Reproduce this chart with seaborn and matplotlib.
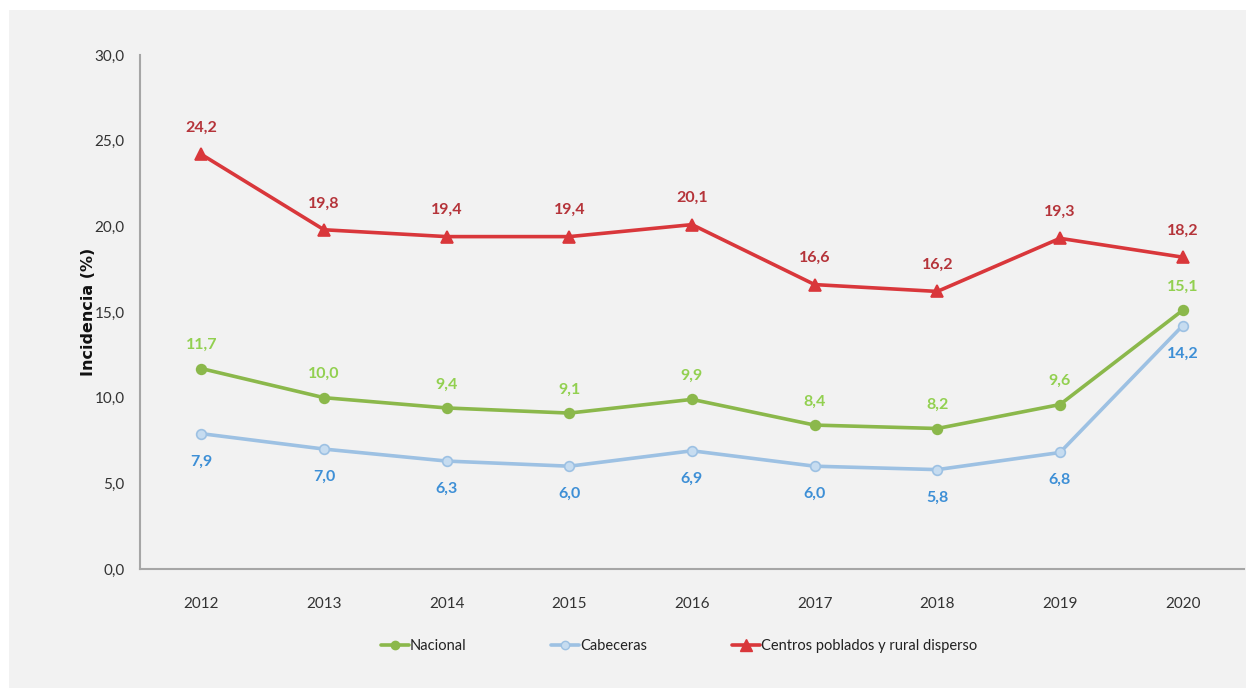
import matplotlib
matplotlib.use("Agg")
import matplotlib.pyplot as plt
import seaborn as sns
import pandas as pd
from matplotlib.patches import Rectangle
from matplotlib.lines import Line2D

years = [2012, 2013, 2014, 2015, 2016, 2017, 2018, 2019, 2020]
nacional = [11.7, 10.0, 9.4, 9.1, 9.9, 8.4, 8.2, 9.6, 15.1]
cabeceras = [7.9, 7.0, 6.3, 6.0, 6.9, 6.0, 5.8, 6.8, 14.2]
rural = [24.2, 19.8, 19.4, 19.4, 20.1, 16.6, 16.2, 19.3, 18.2]
series_names = ["Nacional", "Cabeceras", "Centros poblados y rural disperso"]
y_ticks = [0, 5, 10, 15, 20, 25, 30]

sns.set_style("white")
plt.rcParams["font.family"] = ["Lato", "DejaVu Sans"]

fig = plt.figure(figsize=(12.46, 6.88), dpi=100, facecolor="white")
fig.patches.append(Rectangle((9 / 1246, 0), 1, 1 - 10 / 688, transform=fig.transFigure,
                             facecolor="#f2f2f2", edgecolor="none", zorder=-10))
ax = fig.add_axes([140 / 1246, 1 - 569 / 688, 1104 / 1246, 514 / 688])
ax.set_facecolor("none")
ax.set_zorder(5)

styles = {
    "Nacional": dict(line="#8bb84b", face="#8bb84b", edge="#8bb84b", marker="o", ms=7,
                     text="#92d050", dy=17),
    "Cabeceras": dict(line="#9dc1e3", face="#c6dcf0", edge="#9dc1e3", marker="o", ms=7,
                      text="#3d8fd6", dy=-20),
    "Centros poblados y rural disperso": dict(line="#d9373b", face="#d9373b", edge="#d9373b",
                                              marker="^", ms=9, text="#b5343a", dy=19),
}
values = {"Nacional": nacional, "Cabeceras": cabeceras,
          "Centros poblados y rural disperso": rural}

for name in series_names:
    st = styles[name]
    df = pd.DataFrame({"year": years, "value": values[name]})
    sns.lineplot(data=df, x="year", y="value", ax=ax, color=st["line"], linewidth=2.6,
                 marker=st["marker"], markersize=st["ms"], markerfacecolor=st["face"],
                 markeredgecolor=st["edge"], markeredgewidth=1.2, zorder=3)
    for x, v in zip(years, values[name]):
        ax.annotate(f"{v:.1f}".replace(".", ","), (x, v), xytext=(0, st["dy"]),
                    textcoords="offset points", ha="center", va="center",
                    fontsize=11.5, fontweight="bold", color=st["text"])

ax.set_xlim(years[0] - 0.5, years[-1] + 0.5)
ax.set_ylim(0, 30)
ax.set_xticks(years)
ax.set_xticklabels([str(y) for y in years])
ax.set_yticks(y_ticks)
ax.set_yticklabels([f"{t:.1f}".replace(".", ",") for t in y_ticks])
ax.tick_params(axis="both", length=0, labelsize=11, colors="#333333")
ax.tick_params(axis="x", pad=20)
ax.tick_params(axis="y", pad=11)
ax.set_xlabel("")
ax.set_ylabel("Incidencia (%)", fontsize=11.5, fontweight="bold", color="#111111",
              labelpad=-1, family=["DejaVu Sans"])

for side in ["top", "right"]:
    ax.spines[side].set_visible(False)
for side in ["left", "bottom"]:
    ax.spines[side].set_color("#a6a6a6")
    ax.spines[side].set_linewidth(1.5)

handles = []
for name in series_names:
    st = styles[name]
    handles.append(Line2D([], [], color=st["line"], linewidth=2.6, marker=st["marker"],
                          markersize=st["ms"] - 1, markerfacecolor=st["face"],
                          markeredgecolor=st["edge"]))
fig.legend(handles, series_names, loc="center", bbox_to_anchor=(0.545, 1 - 646 / 688),
           ncol=3, frameon=False, fontsize=10.5, handlelength=1.9, handletextpad=0.1,
           columnspacing=5.8, labelcolor="#222222")

fig.savefig("out.png", dpi=100, facecolor=fig.get_facecolor())
